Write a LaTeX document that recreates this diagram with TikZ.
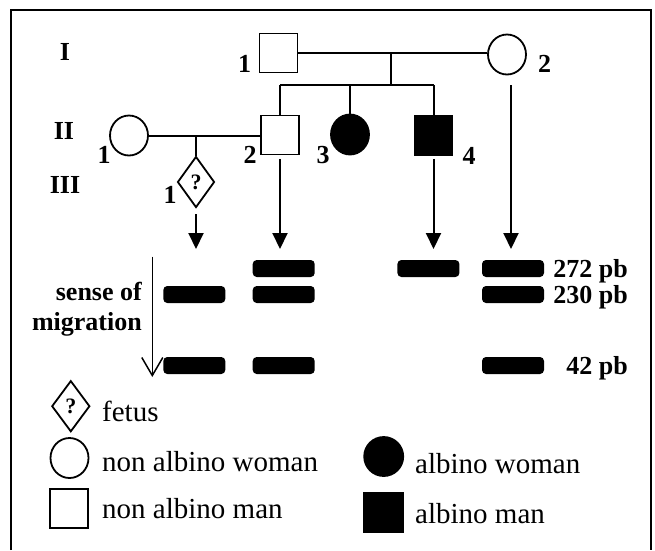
\documentclass[tikz,border=0pt]{standalone}
\usepackage{fontspec}
\setmainfont{Liberation Serif}
\usetikzlibrary{shapes.geometric,arrows.meta}
\tikzset{
  ped/.style={line width=1.8pt, inner sep=0pt},
  male/.style={ped, draw, rectangle, minimum width=38pt, minimum height=39pt},
  female/.style={ped, draw, ellipse, minimum width=38pt, minimum height=40pt},
  affected/.style={fill=black},
  fetusbox/.style={ped, draw, diamond, minimum width=37pt, minimum height=51pt, font=\bfseries\fontsize{22}{22}\selectfont},
  lbl/.style={font=\bfseries\fontsize{26}{30}\selectfont, inner sep=0pt, anchor=base},
  band/.style={fill=black, rounded corners=4pt, minimum width=62pt, minimum height=17pt, inner sep=0pt},
  legtxt/.style={font=\fontsize{29}{32}\selectfont, anchor=base west, inner sep=0pt},
  pline/.style={line width=2pt},
  arr/.style={line width=2pt, -{Triangle[length=16pt,width=15pt]}},
}
\begin{document}
\begin{tikzpicture}[x=1pt,y=-1pt]
\useasboundingbox (0,0) rectangle (655,550);
% frame
\draw[line width=2pt] (11,550) -- (11,10) -- (651,10) -- (651,550);

% generation labels
\node[lbl] (gI) at (65,60) {I};
\node[lbl] (gII) at (64,139) {II};
\node[lbl] (gIII) at (65,193) {III};

% generation I
\node[male] (I1) at (278.5,53) {};
\node[female] (I2) at (507,54.5) {};
\node[lbl] (lI1) at (244.5,72) {1};
\node[lbl] (lI2) at (544.5,72) {2};
\coordinate (mI) at (391,53);
\coordinate (sI) at (391,85);
\draw[pline] (I1.east) -- (I2.west |- I1.east);
\draw[pline] (mI) -- (sI);

% generation II
\node[female] (II1) at (129,135.5) {};
\node[male] (II2) at (280,135) {};
\node[female, affected] (II3) at (350,134.5) {};
\node[male, affected] (II4) at (433.5,135.5) {};
\node[lbl] (lII1) at (104,163) {1};
\node[lbl] (lII2) at (250,163) {2};
\node[lbl] (lII3) at (323,163) {3};
\node[lbl] (lII4) at (469,164) {4};
\draw[pline] (II2.north |- sI) -- (II4.north |- sI);
\draw[pline] (II2.north |- sI) -- (II2.north);
\draw[pline] (II3.north |- sI) -- (II3.north);
\draw[pline] (II4.north |- sI) -- (II4.north);
\draw[pline] (II1.east) -- (II2.west |- II1.east);

% generation III
\node[fetusbox] (III1) at (196,182) {?};
\node[lbl] (lIII1) at (170,203) {1};
\coordinate (mII) at (196,135.5);
\draw[pline] (mII) -- (III1.north);

% arrows to gel
\coordinate (t4) at (511,85);
\coordinate (h1) at (196,249);
\coordinate (h2) at (280,249);
\coordinate (h3) at (433.5,249);
\coordinate (h4) at (511,249);
\draw[arr] ([yshift=-6pt]III1.south) -- (h1);
\draw[arr] ([yshift=-4pt]II2.south) -- (h2);
\draw[arr] ([yshift=-3pt]II4.south) -- (h3);
\draw[arr] (t4) -- (h4);

% gel bands
\node[band] (b22) at (283.7,268.5) {};
\node[band] (b32) at (428.4,268.5) {};
\node[band] (b42) at (513,268.5) {};
\node[band] (b13) at (194.3,294.5) {};
\node[band] (b23) at (283.7,294.5) {};
\node[band] (b43) at (513,294.5) {};
\node[band] (b14) at (194.3,365.5) {};
\node[band] (b24) at (283.7,365.5) {};
\node[band] (b44) at (513,365.5) {};
\node[lbl, anchor=base east] (s272) at (628,277) {272 pb};
\node[lbl, anchor=base east] (s230) at (628,303) {230 pb};
\node[lbl, anchor=base east] (s42) at (628,374) {42 pb};

% migration
\coordinate (ms) at (152.3,256.7);
\coordinate (me) at (152.3,377);
\draw[line width=1.5pt, -{Straight Barb[length=18pt,width=21pt,line width=1.5pt]}] (ms) -- (me);
\node[lbl, anchor=base east] (sense) at (142,300) {sense of};
\node[lbl, anchor=base east] (migr) at (142,330) {migration};

% legend
\node[fetusbox, minimum height=51pt, minimum width=38pt] (lgF) at (70.8,406.2) {?};
\node[legtxt] (tF) at (102,421.7) {fetus};
\node[female] (lgW) at (69.5,458) {};
\node[legtxt] (tW) at (102,471) {non albino woman};
\node[male] (lgM) at (69,508.5) {};
\node[legtxt] (tM) at (102,518) {non albino man};
\node[female, affected, minimum height=39pt, minimum width=39pt] (lgAW) at (383.7,456.5) {};
\node[legtxt] (tAW) at (415,473) {albino woman};
\node[male, affected, minimum height=39pt, minimum width=39pt] (lgAM) at (383.7,512.2) {};
\node[legtxt] (tAM) at (415,523.5) {albino man};
\end{tikzpicture}
\end{document}
